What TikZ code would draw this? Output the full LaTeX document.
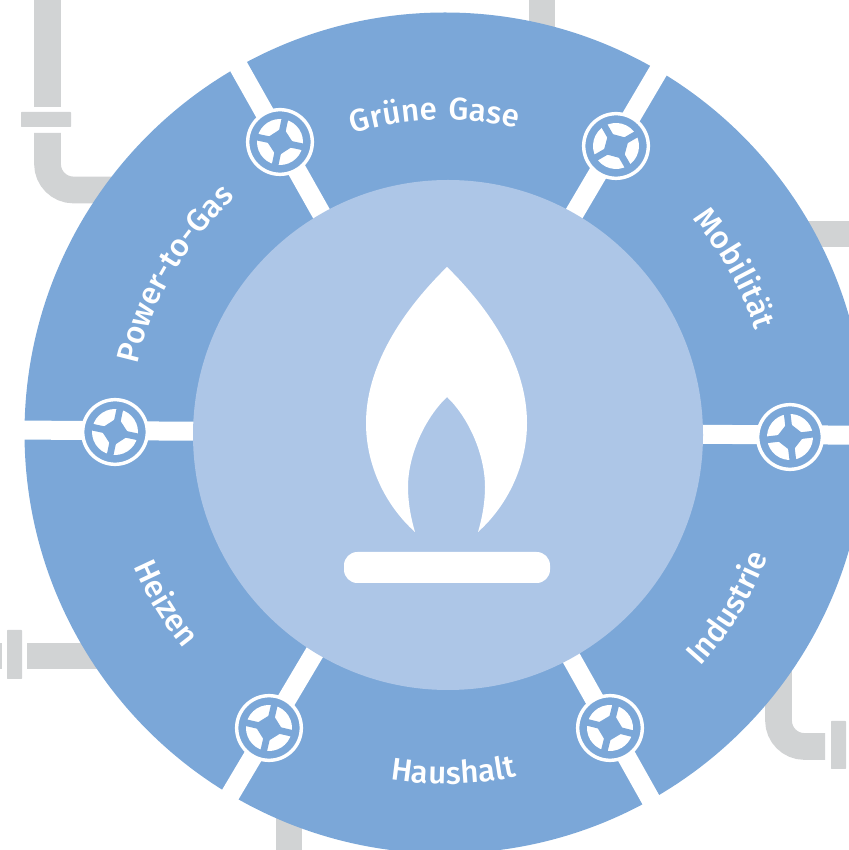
\documentclass[tikz,border=0pt]{standalone}
\usepackage{fontspec}
\newfontfamily\labelface[LetterSpace=10]{Fira Sans Medium}
\usetikzlibrary{calc,decorations.text}
\definecolor{ringblue}{HTML}{7BA7D8}
\definecolor{hubblue}{HTML}{ADC6E7}
\definecolor{pipegrey}{HTML}{D1D3D4}
\newcommand{\labelfont}{\labelface\fontsize{23.5}{25}\selectfont}

\begin{document}
\begin{tikzpicture}[x=0.75pt,y=0.75pt]
\tikzset{
	pipe/.style = {draw = pipegrey, line width = 20pt},
	flange/.style = {fill = pipegrey, rounded corners = 0.5pt},
	spoke/.style = {draw = white, line width = 14.25pt},
	ring node/.style = {circle, fill = ringblue, minimum size = 630.75pt, inner sep = 0},
	hub node/.style = {circle, fill = hubblue, minimum size = 382.5pt, inner sep = 0},
	valve node/.style = {circle, draw = white, fill = ringblue, line width = 2.6pt, minimum size = 48.5pt, inner sep = 0},
	wheel bar/.style = {draw = ringblue, line width = 5pt},
	burner node/.style = {fill = white, rounded corners = 10pt, minimum width = 154.5pt, minimum height = 23.25pt, inner sep = 0},
	arc label/.style = {decorate, decoration = {text along path, text align = center, text color = white, text = {|\labelfont|#1}}},
}
\clip (0,0) rectangle (849,850);

% pipes behind the ring
\draw[pipe] (47.5,850) -- (47.5,743);
\fill[flange] (21,723) rectangle (71,738);
\draw[pipe, rounded corners = 19.5pt] (47.5,717) -- (47.5,660) -- (120,660);
\draw[pipe] (542,850) -- (542,800);
\draw[pipe] (800,616) -- (849,616);
\draw[pipe, rounded corners = 19.5pt] (778.5,200) -- (778.5,103.5) -- (825,103.5);
\fill[flange] (831,81) rectangle (846,129);
\draw[pipe] (289,40) -- (289,0);
\fill[flange] (7,171) rectangle (22,220);
\draw[pipe] (27,194) -- (110,194);
\draw[pipe] (0,194) -- (1.5,194);

\node[ring node] (ring) at (445,417) {};

\foreach \rimname/\ang in {rima/119.4,rimb/59.5,rimc/-0.3,rimd/-60.7,rime/-120.7,rimf/179.6}{
	\coordinate (\rimname) at ($(ring)+(\ang:430)$);
	\draw[spoke] (ring.center) -- (\rimname);
}

\node[hub node] (hub) at (448,415) {};

% flame
\fill[white] (447,583)
	.. controls (400,537) and (366,482) .. (366,427)
	.. controls (366,385) and (385,345) .. (415,318)
	.. controls (410,335) and (408,350) .. (408,363)
	.. controls (408,395) and (425,432) .. (447,453)
	.. controls (469,432) and (485,395) .. (485,363)
	.. controls (485,350) and (483,335) .. (478,318)
	.. controls (508,345) and (527,385) .. (527,427)
	.. controls (527,482) and (494,537) .. (447,583) -- cycle;
\node[burner node] (burner) at (447,282.5) {};

% valves
\foreach \valvename/\px/\py/\turn in {valvea/280/708/-12,valveb/616/704/30,valvec/790/413/7,valved/610/122/-14,valvee/269/122/-13,valvef/115/418/-12}{
	\node[valve node] (\valvename) at (\px,\py) {};
	\begin{scope}[shift={(\valvename)},rotate=\turn]
		\fill[white] (0,0) circle (23);
		\draw[wheel bar] (-25,0) -- (25,0) (0,-25) -- (0,25);
		\fill[ringblue] (15,0) -- (0,15) -- (-15,0) -- (0,-15) -- cycle;
	\end{scope}
}

% labels along the ring, top half reads clockwise and bottom half anticlockwise
\path[arc label = {Grüne Gase}] ($(ring)+(131.9:313)$) arc (131.9:51.9:313);
\path[arc label = {Mobilität}] ($(ring)+(69.6:327)$) arc (69.6:-10.4:327);
\path[arc label = {Power-to-Gas}] ($(ring)+(194.6:315)$) arc (194.6:104.6:315);
\path[arc label = {Industrie}] ($(ring)+(-71.7:346)$) arc (-71.7:8.3:346);
\path[arc label = {Haushalt}] ($(ring)+(-128.6:351)$) arc (-128.6:-48.6:351);
\path[arc label = {Heizen}] ($(ring)+(-188.6:339)$) arc (-188.6:-108.6:339);
\end{tikzpicture}
\end{document}
